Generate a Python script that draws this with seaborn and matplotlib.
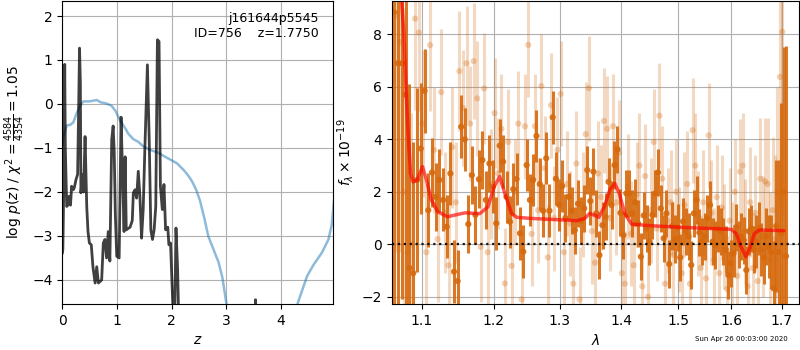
import matplotlib
matplotlib.use('Agg')
import matplotlib.pyplot as plt
from matplotlib.ticker import FixedLocator, NullLocator, FixedFormatter
import pandas as pd
import seaborn as sns

# ---------------- left panel: redshift probability ----------------
pz_z = [0.0, 0.01, 0.025, 0.044, 0.055, 0.08, 0.10, 0.12, 0.15, 0.17, 0.20, 0.22, 0.25, 0.28,
        0.30, 0.315, 0.33, 0.34, 0.37, 0.39, 0.416, 0.447, 0.47, 0.495, 0.53, 0.56, 0.60, 0.63,
        0.66, 0.72, 0.75, 0.78, 0.81, 0.84, 0.87, 0.904, 0.93, 0.95, 0.97, 0.996, 1.04, 1.075,
        1.10, 1.13, 1.15, 1.17, 1.24, 1.28, 1.30, 1.33, 1.36, 1.39, 1.42, 1.45, 1.48, 1.51,
        1.557, 1.59, 1.62, 1.65, 1.68, 1.71, 1.74, 1.77, 1.795, 1.83, 1.86, 1.89, 1.93, 1.95,
        1.98, 2.02, 2.05, 2.08, 2.11, 2.14, 2.20, 3.50, 3.535, 3.57, 4.96]
pz_logp = [-3.4, -3.3, -2.0, 0.9, -1.0, -2.33, -2.3, -2.1, -2.3, -1.87, -1.95, -1.9, -1.72, -1.6,
           0.0, 1.27, 0.5, -2.02, -1.6, -2.0, -0.74, -2.33, -2.9, -3.16, -3.2, -3.7, -4.07, -3.7,
           -4.07, -4.0, -3.16, -3.08, -3.5, -2.9, -3.57, -0.81, -0.5, -1.1, -2.5, -3.46, -3.5, -0.3,
           -1.5, -2.9, -1.2, -2.86, -2.8, -2.65, -2.02, -1.95, -2.14, -1.53, -2.1, -3.05, -2.4, -1.04,
           0.89, -0.8, -2.86, -3.08, -2.86, -2.33, 1.46, 1.42, -1.87, -2.4, -1.83, -2.86, -2.8, -3.2,
           -3.16, -4.49, -5.5, -2.82, -3.76, -5.5, -7.0, -7.0, -4.45, -7.0, -7.0]

chi_z = [0.0, 0.02, 0.08, 0.15, 0.20, 0.26, 0.32, 0.385, 0.5, 0.63, 0.70, 0.81, 0.90, 0.97,
         1.06, 1.15, 1.21, 1.30, 1.39, 1.48, 1.60, 1.76, 1.88, 2.0, 2.1, 2.22, 2.30, 2.37, 2.45,
         2.52, 2.60, 2.67, 2.78, 2.86, 2.93, 3.0, 3.1, 3.3, 4.1, 4.31, 4.48, 4.6, 4.75, 4.87,
         4.93, 4.97]
chi_val = [-0.95, -0.74, -0.49, -0.47, -0.42, -0.22, -0.05, 0.06, 0.06, 0.09, 0.04, 0.01, -0.04,
           -0.15, -0.38, -0.55, -0.68, -0.8, -0.86, -0.96, -1.04, -1.11, -1.2, -1.28, -1.35, -1.5,
           -1.62, -1.75, -1.95, -2.2, -2.6, -3.0, -3.35, -3.6, -3.95, -4.52, -5.3, -6.5, -6.5,
           -4.52, -3.91, -3.65, -3.38, -3.08, -2.75, -2.2]

# ---------------- right panel: spectrum ----------------
wave_dark = [1.064, 1.069, 1.074, 1.079, 1.084, 1.089, 1.094, 1.099, 1.104, 1.109,
             1.114, 1.119, 1.124, 1.129, 1.134, 1.139, 1.144, 1.149, 1.154, 1.159,
             1.164, 1.169, 1.174, 1.179, 1.184, 1.189, 1.194, 1.199, 1.204, 1.209,
             1.214, 1.219, 1.224, 1.229, 1.234, 1.239, 1.244, 1.249, 1.254, 1.259,
             1.264, 1.269, 1.274, 1.279, 1.284, 1.289, 1.294, 1.299, 1.304, 1.309,
             1.314, 1.319, 1.324, 1.329, 1.334, 1.339, 1.344, 1.349, 1.354, 1.359,
             1.364, 1.369, 1.374, 1.379, 1.384, 1.389, 1.394, 1.399, 1.404, 1.409,
             1.414, 1.419, 1.424, 1.429, 1.434, 1.439, 1.444, 1.449, 1.454, 1.459,
             1.464, 1.469, 1.474, 1.479, 1.484, 1.489, 1.494, 1.499, 1.504, 1.509,
             1.514, 1.519, 1.524, 1.529, 1.534, 1.539, 1.544, 1.549, 1.554, 1.559,
             1.564, 1.569, 1.574, 1.579, 1.584, 1.589, 1.594, 1.599, 1.604, 1.609,
             1.614, 1.619, 1.624, 1.629, 1.634, 1.639, 1.644, 1.649, 1.654, 1.659,
             1.664, 1.669, 1.674, 1.679, 1.684, 1.689, 1.694, 1.699, 1.704, 1.709]
flux_dark = [8.85, 6.9, 6.9, 5.7, -0.9, -1.1, 2.45, 3.65, 5.85, 1.3,
             2.74, 1.81, 2.45, 1.69, 0.67, 2.7, -1.04, -1.4, 4.48, 4.0,
             0.77, 2.64, 1.12, 2.48, 3.21, 1.69, 3.08, 2.2, 0.8, 3.76,
             3.15, 1.81, 0.86, 2.1, 2.49, 0.42, -0.28, 3.02, 1.69, 2.45,
             4.13, 2.3, 1.28, 3.28, 1.28, 4.84, 2.5, 1.5, 2.22, 1.0,
             1.81, 1.28, 0.54, 1.55, 0.9, 1.37, 2.83, 1.65, 2.77, 1.18,
             -0.41, 0.73, 1.05, 2.38, 1.5, 3.02, 3.62, 1.2, 0.35, 1.94,
             1.94, 1.18, 1.6, 0.8, -0.47, 1.1, 0.6, 0.1, 1.12, 1.94,
             2.74, 1.37, 0.23, 1.18, -0.75, 0.7, 0.2, 0.65, -0.5, 0.87,
             0.5, 0.3, -0.79, 1.18, 1.69, 0.45, 0.1, 0.3, 0.99, 1.5,
             0.1, -0.03, 0.6, 0.48, 0.1, -0.2, -1.17, -0.72, -0.34, 0.65,
             0.0, 0.3, 0.16, -0.98, 0.5, 0.6, -0.2, 0.1, 0.6, -0.2,
             -0.5, 0.3, -0.1, -0.3, -1.68, 0.7, -0.3, 0.4, 2.0, -0.45]
err_dark = [12, 10, 9, 8, 7, 5, 3.5, 2.5, 1.6, 1.4,
            1.3, 1.3, 1.2, 1.2, 1.2, 1.2, 1.2, 1.2, 1.2, 1.2,
            1.1, 1.1, 1.1, 1.1, 1.1, 1.1, 1.1, 1.0, 1.0, 1.0,
            1.0, 1.0, 1.0, 1.0, 1.0, 1.0, 1.0, 1.0, 1.0, 1.0,
            1.0, 1.0, 1.0, 1.0, 1.0, 1.0, 1.0, 1.0, 1.0, 0.9,
            0.9, 0.9, 0.9, 0.9, 0.9, 0.9, 0.9, 0.9, 0.9, 0.9,
            0.9, 0.9, 0.9, 0.9, 0.9, 0.9, 0.9, 0.9, 0.9, 0.9,
            0.9, 0.9, 0.9, 0.9, 0.9, 0.9, 0.9, 0.9, 0.9, 0.9,
            0.9, 0.9, 0.9, 0.9, 0.9, 0.9, 0.9, 0.9, 0.9, 0.9,
            0.9, 0.9, 0.9, 0.9, 0.9, 0.9, 0.9, 0.9, 0.9, 0.9,
            0.9, 0.9, 0.9, 0.9, 0.9, 0.9, 0.9, 0.9, 0.9, 0.9,
            0.9, 0.9, 0.9, 0.9, 0.9, 0.9, 0.9, 1.0, 1.0, 1.0,
            1.0, 1.1, 1.2, 1.4, 1.8, 2.5, 3.5, 5.0, 5.5, 8.0]

wave_light = [1.0665, 1.0715, 1.0765, 1.0815, 1.0865, 1.0915, 1.0965, 1.1015, 1.1065, 1.1115,
              1.1165, 1.1215, 1.1265, 1.1315, 1.1365, 1.1415, 1.1465, 1.1515, 1.1565, 1.1615,
              1.1665, 1.1715, 1.1765, 1.1815, 1.1865, 1.1915, 1.1965, 1.2015, 1.2065, 1.2115,
              1.2165, 1.2215, 1.2265, 1.2315, 1.2365, 1.2415, 1.2465, 1.2515, 1.2565, 1.2615,
              1.2665, 1.2715, 1.2765, 1.2815, 1.2865, 1.2915, 1.2965, 1.3015, 1.3065, 1.3115,
              1.3165, 1.3215, 1.3265, 1.3315, 1.3365, 1.3415, 1.3465, 1.3515, 1.3565, 1.3615,
              1.3665, 1.3715, 1.3765, 1.3815, 1.3865, 1.3915, 1.3965, 1.4015, 1.4065, 1.4115,
              1.4165, 1.4215, 1.4265, 1.4315, 1.4365, 1.4415, 1.4465, 1.4515, 1.4565, 1.4615,
              1.4665, 1.4715, 1.4765, 1.4815, 1.4865, 1.4915, 1.4965, 1.5015, 1.5065, 1.5115,
              1.5165, 1.5215, 1.5265, 1.5315, 1.5365, 1.5415, 1.5465, 1.5515, 1.5565, 1.5615,
              1.5665, 1.5715, 1.5765, 1.5815, 1.5865, 1.5915, 1.5965, 1.6015, 1.6065, 1.6115,
              1.6165, 1.6215, 1.6265, 1.6315, 1.6365, 1.6415, 1.6465, 1.6515, 1.6565, 1.6615,
              1.6665, 1.6715, 1.6765, 1.6815, 1.6865, 1.6915, 1.6965, 1.7015]
flux_light = [8.7, 7.7, 2.0, -0.3, 0.0, 8.6, 8.07, 4.6, -0.3, 7.59,
              3.6, 0.2, 5.8, 1.2, -0.8, 3.7, 1.6, 6.6, 5.2, 6.9,
              4.6, 6.98, 5.56, -0.1, 5.94, -0.3, 2.3, 5.0, 2.7, 4.4,
              -1.49, 3.9, -0.82, 2.0, 4.6, -2.1, 4.5, 7.6, 0.4, 4.5,
              1.3, 6.03, 2.9, -0.5, 5.3, 1.0, 3.6, 5.73, -0.3, 2.3,
              0.8, -1.5, 3.08, -2.1, 1.5, 4.2, 5.95, 0.5, -0.7, 2.7,
              1.8, 4.7, 4.4, 1.0, 4.5, 1.6, 3.5, -1.1, -1.5, 2.2,
              0.4, -0.8, 1.9, 3.0, -1.6, 2.6, -2.0, 1.3, 3.9, 0.6,
              4.9, 2.5, -1.5, 0.9, 1.6, -0.4, 2.0, 0.2, -1.1, 1.5,
              2.3, -1.5, 4.35, 3.0, 0.8, -0.9, 1.6, -1.3, 4.15, 1.2,
              -0.6, 1.8, -1.1, 1.4, 0.3, -1.7, 0.9, -0.4, 2.0, -1.2,
              2.77, 3.0, 0.5, -1.6, 1.6, -0.9, 1.2, -1.4, 2.5, 0.3,
              2.4, 2.3, -0.6, 1.3, 0.2, 2.0, 6.38, 8.1]
err_light = [9, 8, 7, 6, 5, 3.5, 3, 2.8, 2.6, 2.5,
             2.4, 2.4, 2.4, 2.3, 2.3, 2.3, 2.3, 2.3, 2.2, 2.2,
             2.2, 2.2, 2.2, 2.1, 2.1, 2.1, 2.1, 2.1, 2.1, 2.1,
             2.1, 2.0, 2.0, 2.0, 2.0, 2.0, 2.0, 2.0, 2.0, 2.0,
             2.0, 2.0, 2.0, 2.0, 2.0, 2.0, 2.0, 2.0, 2.0, 2.0,
             2.0, 2.0, 2.0, 2.0, 2.0, 2.0, 2.0, 2.0, 2.0, 2.0,
             2.0, 2.0, 2.0, 2.0, 2.0, 2.0, 2.0, 2.0, 2.0, 2.0,
             2.0, 2.0, 2.0, 2.0, 2.0, 2.0, 2.0, 2.0, 2.0, 2.0,
             2.0, 2.0, 2.0, 2.0, 2.0, 2.0, 2.0, 2.0, 2.0, 2.0,
             2.0, 2.0, 2.0, 2.0, 2.0, 2.0, 2.0, 2.0, 2.0, 2.0,
             2.0, 2.0, 2.0, 2.0, 2.0, 2.0, 2.0, 2.0, 2.0, 2.0,
             2.0, 2.0, 2.0, 2.1, 2.1, 2.1, 2.2, 2.2, 2.3, 2.3,
             2.4, 2.5, 2.6, 2.8, 3.2, 4.0, 5.0, 7.0]

model_wave = [1.070, 1.0735, 1.0767, 1.0793, 1.0823, 1.0855, 1.0889, 1.0942, 1.1013, 1.1065,
              1.1131, 1.1218, 1.135, 1.146, 1.1595, 1.1803, 1.192, 1.201, 1.209, 1.2165,
              1.2265, 1.234, 1.254, 1.3024, 1.327, 1.340, 1.348, 1.356, 1.363, 1.372,
              1.381, 1.3896, 1.397, 1.4065, 1.418, 1.444, 1.503, 1.5625, 1.5995, 1.609,
              1.6187, 1.628, 1.637, 1.645, 1.6555, 1.705]
model_flux = [12.5, 9.4, 8.04, 6.13, 4.23, 2.7, 2.38, 2.45, 2.96, 2.45,
              1.69, 1.24, 1.05, 1.12, 1.2, 1.17, 1.43, 2.2, 2.58, 1.94,
              1.17, 1.03, 0.99, 0.93, 0.9, 0.99, 1.18, 1.1, 1.03, 1.43,
              2.07, 2.32, 1.94, 1.17, 0.77, 0.72, 0.65, 0.6, 0.57, 0.42,
              -0.09, -0.47, -0.09, 0.42, 0.545, 0.52]

lam_ticks = [1.1, 1.2, 1.3, 1.4, 1.5, 1.6, 1.7]
lam_tick_labels = ['1.1', '1.2', '1.3', '1.4', '1.5', '1.6', '1.7']

# ---------------- style ----------------
sns.set_style('ticks', {'axes.grid': True, 'grid.color': '#b0b0b0', 'grid.linestyle': '-',
                        'axes.edgecolor': 'black', 'xtick.color': 'black', 'ytick.color': 'black',
                        'axes.labelcolor': 'black', 'text.color': 'black'})
plt.rcParams['font.family'] = ['DejaVu Sans']
plt.rcParams['font.size'] = 10
plt.rcParams['grid.linewidth'] = 0.8

orange = '#d6690d'

fig = plt.figure(figsize=(8, 3.5), dpi=100)
ax1 = fig.add_axes([0.0779, 0.131, 0.3388, 0.866])
ax2 = fig.add_axes([0.4896, 0.131, 0.5091, 0.866])

# left panel
df_chi = pd.DataFrame({'z': chi_z, 'v': chi_val})
df_pz = pd.DataFrame({'z': pz_z, 'v': pz_logp})
sns.lineplot(data=df_chi, x='z', y='v', ax=ax1, color='tab:blue', alpha=0.5, lw=1.8,
             sort=False, errorbar=None)
sns.lineplot(data=df_pz, x='z', y='v', ax=ax1, color='k', alpha=0.75, lw=2.0,
             sort=False, errorbar=None)
ax1.set_xlim(0, 4.96)
ax1.set_ylim(-4.55, 2.34)
ax1.set_xticks([0, 1, 2, 3, 4])
ax1.set_yticks([-4, -3, -2, -1, 0, 1, 2])
ax1.set_xlabel('$z$')
ax1.set_ylabel(r'log $p(z)$ / $\chi^2=\frac{4584}{4354}=1.05$')
ax1.text(0.945, 0.965, 'j161644p5545\nID=756    z=1.7750', transform=ax1.transAxes,
         ha='right', va='top', fontsize=9)
ax1.grid(True)

# right panel
ax2.set_xscale('log')
ax2.errorbar(wave_light, flux_light, yerr=err_light, fmt='none', ecolor=orange,
             alpha=0.25, elinewidth=2.2, capsize=0)
sns.scatterplot(x=wave_light, y=flux_light, ax=ax2, color=orange, alpha=0.3, s=20,
                edgecolor='none')
ax2.errorbar(wave_dark, flux_dark, yerr=err_dark, fmt='none', ecolor=orange,
             alpha=0.9, elinewidth=2.2, capsize=0)
sns.scatterplot(x=wave_dark, y=flux_dark, ax=ax2, color=orange, alpha=0.9, s=20,
                edgecolor='none')
df_model = pd.DataFrame({'w': model_wave, 'f': model_flux})
sns.lineplot(data=df_model, x='w', y='f', ax=ax2, color='red', alpha=0.65, lw=2.5,
             sort=False, errorbar=None)
ax2.axhline(0, color='k', linestyle=':', lw=1.6, alpha=0.9)
ax2.set_xlim(1.061, 1.736)
ax2.set_ylim(-2.28, 9.27)
ax2.xaxis.set_major_locator(FixedLocator(lam_ticks))
ax2.xaxis.set_major_formatter(FixedFormatter(lam_tick_labels))
ax2.xaxis.set_minor_locator(NullLocator())
ax2.set_yticks([-2, 0, 2, 4, 6, 8])
ax2.set_xlabel(r'$\lambda$')
ax2.set_ylabel(r'$f_\lambda\times10^{-19}$')
ax2.grid(True)

fig.text(0.985, 1 - 339 / 350, 'Sun Apr 26 00:03:00 2020', ha='right', va='center', fontsize=5)

fig.savefig('out.png', dpi=100)
